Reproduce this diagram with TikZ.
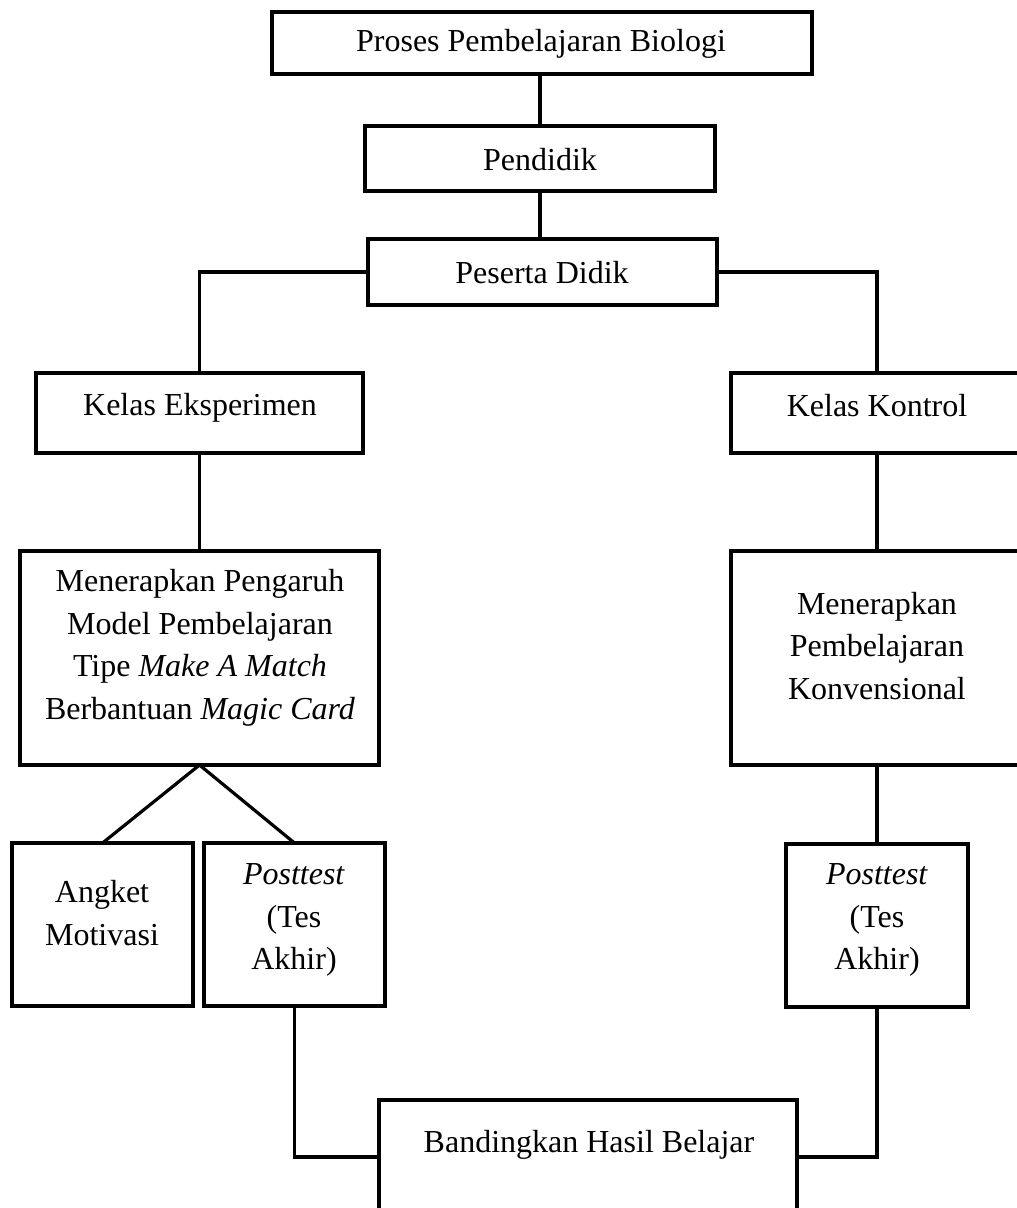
\documentclass[tikz,border=0pt]{standalone}
\usepackage{fontspec}
\setmainfont{Liberation Serif}
\begin{document}
\begin{tikzpicture}[x=1pt,y=-1pt]
\tikzset{
  box/.style={draw=black, line width=4pt, rectangle, inner sep=0pt, outer sep=0pt},
  lbl/.style={font=\fontsize{32}{42.5}\selectfont, align=center, inner sep=0pt},
  conn/.style={draw=black, line width=3.2pt}
}
\useasboundingbox (0,0) rectangle (1017,1208);
% boxes
\node[box, minimum width=540pt, minimum height=62pt] (top) at (542,43) {};
\node[box, minimum width=350pt, minimum height=65pt] (pend) at (540,158.5) {};
\node[box, minimum width=349pt, minimum height=66pt] (pes) at (542.5,272) {};
\node[box, minimum width=327pt, minimum height=80pt] (ke) at (199.5,413) {};
\node[box, minimum width=292pt, minimum height=80pt] (kk) at (877,413) {};
\node[box, minimum width=359pt, minimum height=214pt] (ml) at (199.5,658) {};
\node[box, minimum width=292pt, minimum height=214pt] (mr) at (877,658) {};
\node[box, minimum width=181pt, minimum height=163pt] (ang) at (102.5,924.5) {};
\node[box, minimum width=181pt, minimum height=163pt] (ptl) at (294.5,924.5) {};
\node[box, minimum width=182pt, minimum height=163pt] (ptr) at (877,925) {};
\node[box, minimum width=418pt, minimum height=114pt] (band) at (588,1157) {};
% labels
\node[lbl] (t1) at (541,44) {Proses Pembelajaran Biologi};
\node[lbl] (t2) at (540,160) {Pendidik};
\node[lbl] (t3) at (542,273) {Peserta Didik};
\node[lbl] (t4) at (200,408) {Kelas Eksperimen};
\node[lbl] (t5) at (877,406) {Kelas Kontrol};
\node[lbl] (t6) at (200,648) {Menerapkan Pengaruh\\Model Pembelajaran\\Tipe \textit{Make A Match}\\Berbantuan \textit{Magic Card}};
\node[lbl] (t7) at (877,646) {Menerapkan\\Pembelajaran\\Konvensional};
\node[lbl] (t8) at (102,913) {Angket\\Motivasi};
\node[lbl] (t9) at (294,920) {\textit{Posttest}\\(Tes\\Akhir)};
\node[lbl] (t10) at (877,920) {\textit{Posttest}\\(Tes\\Akhir)};
\node[lbl] (t11) at (589,1145) {Bandingkan Hasil Belajar};
% connectors
\draw[conn] (top.south -| pend.north) -- (pend.north);
\draw[conn] (pend.south) -- (pes.north -| pend.south);
\draw[conn] (pes.west) -| (ke.north);
\draw[conn] (pes.east) -| (kk.north);
\draw[conn] (ke.south) -- (ml.north -| ke.south);
\draw[conn] (kk.south) -- (mr.north);
\draw[conn] (ml.south) -- (ang.north);
\draw[conn] (ml.south) -- (ptl.north);
\draw[conn] (mr.south) -- (ptr.north);
\draw[conn] (ptl.south) |- (band.west);
\draw[conn] (ptr.south) |- (band.east);
\end{tikzpicture}
\end{document}
